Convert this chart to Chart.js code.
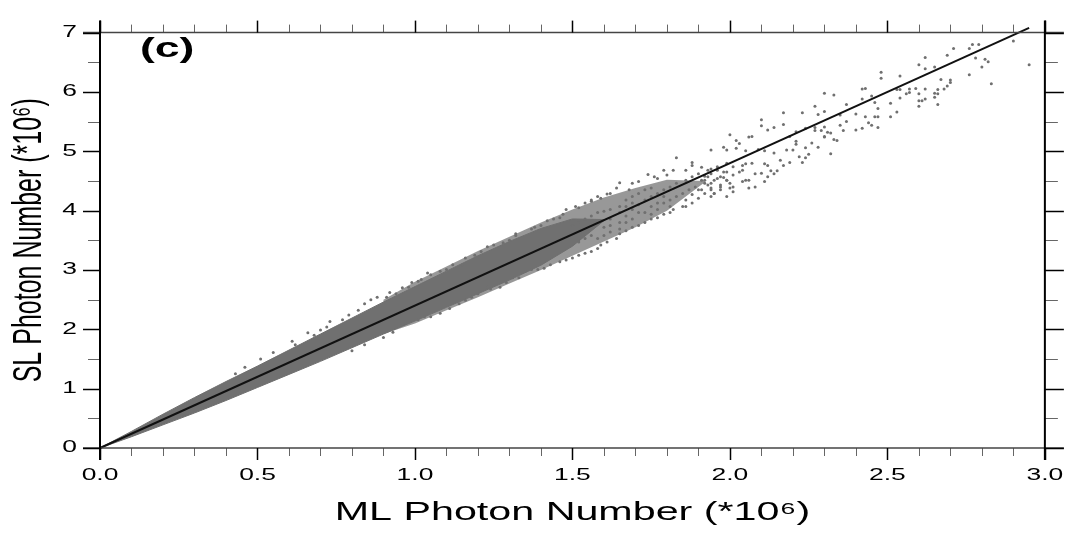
<!DOCTYPE html>
<html>
<head>
<meta charset="utf-8">
<title>SL vs ML photon number</title>
<script src="https://cdn.jsdelivr.net/npm/chart.js"></script>
<style>
  html, body { margin: 0; padding: 0; background: #fff; }
  #wrap { position: relative; width: 1074px; height: 533px; }
</style>
</head>
<body>
<div id="wrap"><canvas id="photonChart"></canvas></div>
<script>
// Axis text
const xTitle = 'ML Photon Number (*10⁶)';
const yTitle = 'SL Photon Number (*10⁶)';
const panelLabel = '(c)';

// Tick labels
const xTickValues = [0, 0.5, 1.0, 1.5, 2.0, 2.5, 3.0];
const yTickValues = [0, 1, 2, 3, 4, 5, 6, 7];

// Solid core of the cloud (upper / lower edge)
const bandML = [0, 0.1, 0.2, 0.3, 0.4, 0.5, 0.6, 0.7, 0.8, 0.9, 1.0, 1.1, 1.2, 1.3, 1.4, 1.5, 1.6];
const bandSLHigh = [0, 0.28, 0.57, 0.85, 1.12, 1.38, 1.65, 1.92, 2.19, 2.46, 2.72, 2.98, 3.24, 3.48, 3.70, 3.86, 3.85];
const bandSLLow = [0, 0.19, 0.39, 0.59, 0.80, 1.02, 1.24, 1.46, 1.69, 1.92, 2.14, 2.37, 2.60, 2.83, 3.08, 3.40, 3.83];

// Speckled halo round the core, where points are dense but not touching
const haloML = [0.9, 1.0, 1.1, 1.2, 1.3, 1.4, 1.5, 1.6, 1.7, 1.8, 1.92];
const haloSLHigh = [2.50, 2.80, 3.06, 3.32, 3.56, 3.80, 4.02, 4.22, 4.38, 4.52, 4.50];
const haloSLLow = [1.92, 2.10, 2.32, 2.54, 2.77, 3.00, 3.24, 3.48, 3.72, 4.00, 4.48];

// Fitted line
const fitML = [0, 2.95];
const fitSL = [0, 7.08];

// Individual points outside the dense core [ML, SL]
const lowPoints = [
  [0.43,1.25],[0.46,1.36],[0.51,1.50],[0.55,1.61],[0.61,1.80],[0.62,1.74],[0.66,1.94],[0.68,1.90],
  [0.70,1.99],[0.72,2.04],[0.73,2.13],[0.77,2.16],[0.79,2.24],[0.82,2.32],[0.84,2.43],[0.86,2.50],
  [0.88,2.54],[0.91,2.54],[0.92,2.62],[0.94,2.60],[0.96,2.70],[0.80,1.64],[0.84,1.74],[0.90,1.86],[0.93,1.95]
];
const midPoints = [
  [1.83,4.89],[1.88,4.81],[1.88,4.76],[1.82,4.68],[1.79,4.68],[1.80,4.60],[1.76,4.57],[1.74,4.61],
  [1.77,4.54],[1.71,4.49],[1.69,4.46],[1.68,4.35],[1.65,4.47],[1.64,4.38],[1.62,4.29],[1.61,4.28],
  [1.59,4.21],[1.58,4.24],[1.56,4.18],[1.56,4.16],[1.54,4.13],[1.52,4.05],[1.51,4.07],[1.48,4.02],
  [1.47,3.94],[1.46,3.88],[1.44,3.86],[1.42,3.83],[1.40,3.75],[1.38,3.72],[1.37,3.69],[1.32,3.61],
  [1.32,3.58],[1.30,3.50],[1.28,3.46],[1.25,3.42],[1.23,3.39],[1.21,3.31],[1.19,3.25],[1.16,3.20],
  [1.15,3.09],[1.12,3.09],[1.10,3.01],[1.08,2.98],[1.05,2.92],[1.04,2.95],[1.02,2.84],[1.01,2.81],
  [0.99,2.79],[0.98,2.71],
  [1.91,4.73],[1.94,4.70],[1.96,4.68],[1.99,4.65],[2.01,4.60],[2.04,4.68],[2.05,4.51],[2.00,4.46],
  [1.97,4.40],[1.94,4.35],[1.92,4.29],[1.90,4.21],[1.88,4.27],[1.86,4.18],[1.85,4.07],[1.82,4.02],
  [1.81,3.97],[1.79,3.94],[1.77,3.88],[1.75,3.86],[1.73,3.80],[1.71,3.75],[1.69,3.72],[1.67,3.66],
  [1.65,3.61],[1.64,3.53],[1.61,3.47],[1.59,3.42],[1.58,3.36],[1.56,3.31],[1.54,3.28],[1.52,3.25],
  [1.50,3.20],[1.48,3.17],[1.46,3.14],[1.43,3.09],[1.41,3.03],[1.39,3.01],[1.37,3.01],[1.35,2.98],
  [1.33,2.87],[1.31,2.87],[1.29,2.79],[1.27,2.71],[1.24,2.68],[1.23,2.71],[1.20,2.60],[1.18,2.54],
  [1.16,2.49],[1.14,2.43],[1.11,2.35],[1.08,2.27],[1.05,2.21],[1.03,2.21],[1.01,2.16],[0.97,2.10],
  [0.96,2.08],
  [1.58,3.80],[1.60,3.72],[1.62,3.86],[1.65,3.80],[1.67,3.91],[1.69,4.02],[1.71,4.10],[1.73,4.18],
  [1.75,4.24],[1.77,4.29],[1.79,4.35],[1.81,4.40],[1.83,4.46],[1.86,4.51],[1.69,3.86],[1.71,3.97],
  [1.73,3.97],[1.75,4.07],[1.77,4.13],[1.79,4.13],[1.81,4.18],[1.83,4.24],[1.87,4.35],[1.89,4.40],
  [1.91,4.51],[1.93,4.57],[1.95,4.51],[1.97,4.57],[1.99,4.51],[2.01,4.40],[1.75,4.38],[1.73,4.35],
  [1.71,4.29],[1.69,4.24],[1.67,4.18],[1.65,4.07],[1.62,4.02],[1.60,3.99],[1.58,3.97],[1.56,3.91],
  [1.54,3.86],[1.52,3.80],[1.50,3.75],[1.60,3.58],[1.62,3.64],[1.67,3.80],[1.56,3.58],[1.54,3.53],
  [1.52,3.47],[1.58,3.53],[1.79,4.24],[1.81,4.07],[1.85,4.29],[1.86,4.07],[1.88,4.13],[1.90,4.35],
  [1.92,4.46],[1.94,4.46],[1.95,4.29],[1.88,4.57],[1.86,4.68],[1.90,4.62],[1.75,3.94],[1.77,4.02],
  [1.69,4.13],[1.67,4.07],[1.65,3.97],[1.62,3.75],[1.65,3.69]
];
const highPoints = [
  [2.77,6.80],[2.79,6.80],[2.71,6.73],[2.76,6.73],[2.69,6.62],[2.78,6.57],[2.81,6.55],[2.82,6.51],
  [2.62,6.58],[2.60,6.46],[2.65,6.42],[2.62,6.39],[2.48,6.33],[2.48,6.23],[2.54,6.27],[2.76,6.29],
  [2.80,6.42],[2.83,6.14],[2.90,6.86],[2.95,6.46],[2.67,6.21],[2.70,6.20],[2.70,6.16],[2.69,6.10],
  [2.68,6.05],[2.66,6.04],[2.65,5.98],[2.66,5.97],[2.65,5.91],[2.66,5.79],[2.62,5.88],[2.61,5.85],
  [2.60,5.85],[2.60,5.76],[2.62,6.05],[2.59,6.06],[2.57,6.05],[2.57,5.99],[2.56,5.97],[2.54,5.90],
  [2.54,6.04],[2.53,5.66],[2.51,5.58],[2.51,5.81],[2.60,5.97],[2.53,6.04],[2.42,6.05],[2.43,6.06],
  [2.30,5.98],[2.33,5.95],[2.42,5.88],[2.45,5.93],[2.37,5.79],[2.46,5.82],[2.47,5.72],[2.40,5.63],
  [2.35,5.61],[2.30,5.67],[2.27,5.76],[2.23,5.65],[2.17,5.65],[2.28,5.62],[2.43,5.58],[2.46,5.58],
  [2.47,5.58],[2.44,5.48],[2.45,5.44],[2.47,5.40],[2.40,5.36],[2.42,5.39],[2.36,5.35],[2.35,5.44],
  [2.37,5.50],[2.10,5.53],[2.10,5.43],[2.12,5.36],[2.14,5.40],[2.17,5.45],[2.21,5.33],[2.19,5.25],
  [2.21,5.17],[2.24,5.39],[2.27,5.40],[2.27,5.35],[2.29,5.35],[2.30,5.41],[2.30,5.25],[2.30,5.24],
  [2.31,5.32],[2.32,5.31],[2.33,5.20],[2.34,5.18],[2.32,4.96],[2.06,5.24],[2.07,5.25],[2.00,5.28],
  [2.02,5.18],[2.03,5.13],[2.02,5.05],[1.99,5.02],[1.98,5.07],[1.94,5.02],[2.05,5.01],[2.09,5.03],
  [2.11,5.01],[2.14,4.97],[2.16,4.85],[2.18,5.02],[2.20,5.02],[2.21,5.12],[2.24,5.06],[2.26,5.14],
  [2.28,5.07],[2.25,4.95],[2.24,4.89],[2.23,4.81],[2.22,4.91],[2.19,4.81],[2.17,4.76],[2.15,4.67],
  [2.13,4.67],[2.12,4.76],[2.11,4.79],[2.10,4.63],[2.08,4.62],[2.07,4.80],[2.05,4.79],[2.04,4.76],
  [2.03,4.65],[2.01,4.74],[1.99,4.80],[1.98,4.65],[1.98,4.56],[1.96,4.74],[1.94,4.62],[1.93,4.68],
  [1.92,4.58],[1.92,4.51],[1.93,4.43],[1.94,4.38],[1.96,4.54],[1.97,4.43],[1.99,4.51],[2.00,4.38],
  [2.01,4.32],[1.99,4.24],[1.97,4.35],[1.95,4.29],[1.94,4.24],[1.91,4.35],[2.04,4.49],[2.06,4.51],
  [2.06,4.38],[2.08,4.40],[2.11,4.49],[2.12,4.57],[2.14,4.62]
];

const POINT_GREY = '#707070';
const HALO_GREY = 'rgba(112, 112, 112, 0.72)';
const TEXT_STRETCH = 1.65; // the original figure is stretched sideways

const toXY = (pairs) => pairs.map(p => ({ x: p[0], y: p[1] }));

const outline = (xs, high, low) => xs.map((x, i) => ({ x: x, y: high[i] }))
  .concat(xs.map((x, i) => ({ x: x, y: low[i] })).reverse());

const bandShape = outline(bandML, bandSLHigh, bandSLLow);
const haloShape = outline(haloML, haloSLHigh, haloSLLow);

const fitData = fitML.map((x, i) => ({ x: x, y: fitSL[i] }));

const scatterData = toXY(lowPoints.concat(midPoints, highPoints));

// Widen every piece of text horizontally around its anchor point
const stretchText = {
  id: 'stretchText',
  beforeInit(chart) {
    const ctx = chart.ctx;
    const fill = ctx.fillText.bind(ctx);
    ctx.fillText = (text, x, y) => {
      const t = ctx.getTransform();
      const p = t.transformPoint(new DOMPoint(x, y));
      ctx.save();
      ctx.setTransform(new DOMMatrix()
        .translate(p.x, p.y).scale(TEXT_STRETCH, 1).translate(-p.x, -p.y)
        .multiply(t));
      fill(text, x, y);
      ctx.restore();
    };
  }
};

// Box round the plot with major and minor ticks on all four sides
const frameTicks = {
  id: 'frameTicks',
  afterDraw(chart) {
    const { ctx, chartArea: a, scales: { x, y } } = chart;
    const line = (x1, y1, x2, y2, color, width) => {
      ctx.strokeStyle = color;
      ctx.lineWidth = width;
      ctx.beginPath();
      ctx.moveTo(x1, y1);
      ctx.lineTo(x2, y2);
      ctx.stroke();
    };
    ctx.save();

    // minor ticks
    for (let i = 0; i <= 30; i++) {
      if (i % 5 === 0) continue;
      const px = Math.round(x.getPixelForValue(i / 10)) + 0.5;
      line(px, a.bottom, px, a.bottom + 8, '#666', 1);
      line(px, a.top, px, a.top - 8, '#666', 1);
    }
    for (let i = 0; i <= 14; i++) {
      if (i % 2 === 0) continue;
      const py = Math.round(y.getPixelForValue(i / 2)) + 0.5;
      line(a.left - 12, py, a.left, py, '#666', 1);
      line(a.right, py, a.right + 13, py, '#666', 1);
    }

    // frame
    line(a.left - 17, a.top, a.right + 19, a.top, '#444', 1.5);
    line(a.left - 17, a.bottom, a.right + 19, a.bottom, '#444', 1.5);
    line(a.left, a.top - 12, a.left, a.bottom + 12, '#000', 2);
    line(a.right, a.top - 12, a.right, a.bottom + 12, '#000', 2);

    // major ticks
    xTickValues.forEach(v => {
      const px = Math.round(x.getPixelForValue(v)) + 0.5;
      line(px, a.bottom, px, a.bottom + 12, '#000', 1.5);
      line(px, a.top, px, a.top - 12, '#000', 1.5);
    });
    yTickValues.forEach(v => {
      const py = Math.round(y.getPixelForValue(v)) + 0.5;
      line(a.left - 17, py, a.left, py, '#000', 1.5);
      line(a.right, py, a.right + 19, py, '#000', 1.5);
    });

    // panel label
    ctx.fillStyle = '#000';
    ctx.font = 'bold 27px "Liberation Sans", Arial, sans-serif';
    ctx.textAlign = 'left';
    ctx.textBaseline = 'alphabetic';
    ctx.fillText(panelLabel, a.left + 40, a.top + 24);
    ctx.restore();
  }
};

Chart.defaults.font.family = '"Liberation Sans", Arial, sans-serif';
Chart.defaults.color = '#000';

new Chart(document.getElementById('photonChart'), {
  type: 'scatter',
  data: {
    datasets: [
      {
        type: 'line',
        data: fitData,
        borderColor: '#111',
        borderWidth: 2,
        pointRadius: 0,
        fill: false,
        clip: false
      },
      {
        data: scatterData,
        backgroundColor: POINT_GREY,
        borderWidth: 0,
        pointRadius: 1.5,
        pointHoverRadius: 1.5
      },
      {
        type: 'line',
        data: bandShape,
        backgroundColor: POINT_GREY,
        borderColor: POINT_GREY,
        borderWidth: 1,
        pointRadius: 0,
        fill: 'shape'
      },
      {
        type: 'line',
        data: haloShape,
        backgroundColor: HALO_GREY,
        borderColor: 'rgba(0, 0, 0, 0)',
        borderWidth: 0,
        pointRadius: 0,
        fill: 'shape'
      }
    ]
  },
  options: {
    responsive: true,
    maintainAspectRatio: false,
    animation: false,
    events: [],
    layout: { padding: { left: 0, right: 26, top: 22, bottom: 0 } },
    plugins: {
      legend: { display: false },
      tooltip: { enabled: false }
    },
    scales: {
      x: {
        type: 'linear',
        min: 0,
        max: 3,
        afterFit: (scale) => { scale.height = 85; },
        afterBuildTicks: (scale) => { scale.ticks = xTickValues.map(v => ({ value: v })); },
        grid: { display: false, drawTicks: false },
        border: { display: false },
        ticks: {
          padding: 18,
          maxRotation: 0,
          autoSkip: false,
          font: { size: 16 },
          callback: (v) => Number(v).toFixed(1)
        },
        title: {
          display: true,
          text: xTitle,
          font: { size: 25 },
          padding: { top: 0, bottom: 5 }
        }
      },
      y: {
        type: 'linear',
        min: 0,
        max: 7,
        afterFit: (scale) => { scale.width = 100; },
        afterBuildTicks: (scale) => { scale.ticks = yTickValues.map(v => ({ value: v })); },
        grid: { display: false, drawTicks: false },
        border: { display: false },
        ticks: {
          padding: 23,
          autoSkip: false,
          font: { size: 16 },
          callback: (v) => String(v)
        },
        title: {
          display: true,
          text: yTitle,
          font: { size: 25 },
          padding: { top: 15, bottom: 0 }
        }
      }
    }
  },
  plugins: [stretchText, frameTicks]
});
</script>
</body>
</html>
